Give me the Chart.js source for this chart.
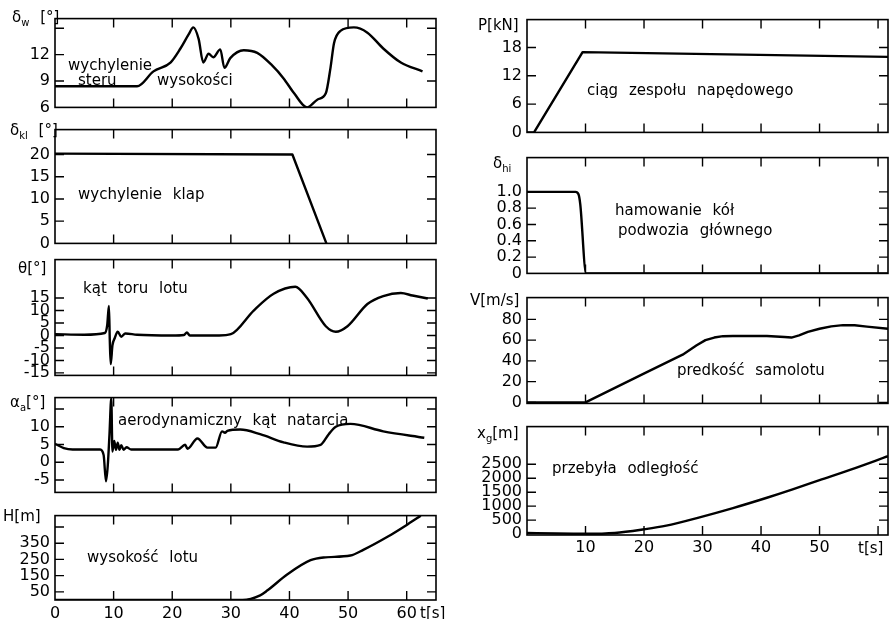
<!DOCTYPE html>
<html><head><meta charset="utf-8">
<script src="https://cdn.jsdelivr.net/npm/chart.js@4.4.1/dist/chart.umd.min.js"></script>
<style>
body{margin:0;background:#fff;width:891px;height:619px;position:relative;overflow:hidden;font-family:"DejaVu Sans",sans-serif;color:#000}
canvas{position:absolute}
.lbl{position:absolute;font-size:15px;line-height:16px;white-space:nowrap;word-spacing:6px}
.lbl sub{font-size:10px;vertical-align:-4px;line-height:0}
</style></head><body>
<script>
// ---------- data ----------
const timeTicks = [0, 10, 20, 30, 40, 50, 60];
const timeLabelsLeft = ['0', '10', '20', '30', '40', '50', '60'];
const timeLabelsRight = ['', '10', '20', '30', '40', '50', ''];

// elevator deflection δw [°]
const elevT   = [0, 14, 16.8, 19.7, 21.4, 22.8, 23.6, 24.5, 25.3, 26.2, 27.0, 28.2, 28.9, 29.9, 32.2, 34.5, 37, 39, 40.8, 43, 44.8, 46.2, 47.0, 47.6, 48.7, 51, 53.3, 56, 59, 62.7];
const elevDeg = [8.4, 8.4, 10.1, 11.1, 12.7, 14.3, 15.1, 13.8, 11.1, 12.1, 11.7, 12.6, 10.5, 11.6, 12.5, 12.2, 10.8, 9.3, 7.6, 6.0, 6.9, 7.6, 10.5, 13.3, 14.7, 15.1, 14.5, 12.7, 11.1, 10.1];
const elevTicks = [6, 9, 12, 15];
const elevLabels = ['6', '9', '12', ''];

// flap deflection δkl [°]
const flapT   = [0, 40.5, 46.3];
const flapDeg = [20.2, 20, 0];
const flapTicks = [0, 5, 10, 15, 20];
const flapLabels = ['0', '5', '10', '15', '20'];

// flight path angle θ [°]
const pathT   = [0, 5, 8.5, 8.9, 9.2, 9.35, 9.5, 9.8, 10.2, 10.7, 11.3, 12, 14, 20, 22, 22.5, 23, 28, 30, 33.9, 37.3, 41, 43, 46.2, 47.9, 49.9, 53.3, 56, 59, 61, 63.6];
const pathDeg = [0.5, 0.3, 1, 4, 11.8, -2, -11.5, -4, -1, 1.5, -0.5, 0.8, 0.3, 0, 0.2, 1.2, 0, 0, 0.5, 10, 16.7, 19.5, 15, 3.7, 1.5, 3.7, 12.6, 15.8, 17.0, 16, 14.8];
const pathTicks = [-15, -10, -5, 0, 5, 10, 15];
const pathLabels = ['-15', '-10', '-5', '0', '5', '10', '15'];

// aerodynamic angle of attack αa [°]
const aoaT   = [0, 1.5, 3, 7.7, 8.3, 8.7, 9.0, 9.3, 9.6, 9.8, 10.1, 10.4, 10.7, 11.0, 11.3, 11.7, 12.2, 13, 21, 22.2, 22.6, 24.3, 26, 27.4, 28.5, 29.0, 29.4, 31.6, 35, 39, 43, 45.3, 46.7, 47.9, 50.4, 56, 63];
const aoaDeg = [5.2, 4, 3.6, 3.6, 2, -5.4, -1, 8, 18, 3, 6, 3.5, 5.5, 3.5, 4.8, 3.5, 4.2, 3.6, 3.6, 4.9, 3.8, 6.7, 4.1, 4.1, 8.7, 8.3, 8.8, 9.2, 7.9, 5.6, 4.4, 4.9, 7.9, 10, 10.8, 8.7, 6.9];
const aoaTicks = [-5, 0, 5, 10, 15];
const aoaLabels = ['-5', '0', '5', '10', ''];

// altitude H [m]
const altT = [0, 32, 35, 36.2, 39.6, 43.6, 45.8, 50.4, 52.6, 56.8, 60.2, 62.4];
const altM = [0, 0, 29, 58, 157, 245, 262, 274, 309, 391, 467, 519];
const altTicks = [50, 150, 250, 350, 450];
const altLabels = ['50', '150', '250', '350', ''];

// thrust P [kN]
const thrustT  = [0, 1.2, 9.5, 61.7];
const thrustKN = [0, 0, 17, 16];
const thrustTicks = [0, 6, 12, 18];
const thrustLabels = ['0', '6', '12', '18'];

// main gear wheel braking δhi
const brakeT = [0, 8.3, 8.8, 9.1, 10.1, 61.7];
const brakeV = [1.0, 1.0, 0.97, 0.85, 0, 0];
const brakeTicks = [0, 0.2, 0.4, 0.6, 0.8, 1.0];
const brakeLabels = ['0', '0.2', '0.4', '0.6', '0.8', '1.0'];

// airspeed V [m/s]
const speedT  = [0, 10, 19.7, 26.6, 29, 30.5, 32, 33.5, 35.2, 41, 44, 45.2, 46.5, 48, 50, 52, 54, 56, 58.1, 61.7];
const speedMS = [0, 0, 27, 46, 55, 60, 62.5, 63.8, 64, 64, 63, 62.5, 64.5, 68, 71, 73.3, 74.5, 74.3, 73, 71];
const speedTicks = [0, 20, 40, 60, 80];
const speedLabels = ['0', '20', '40', '60', '80'];

// distance travelled xg [m]
const distT = [0, 5, 10, 15, 20, 23.8, 29.5, 35.2, 41, 45.4, 50, 55.2, 61.7];
const distM = [40, 20, 10, 40, 170, 300, 600, 930, 1300, 1600, 1930, 2300, 2790];
const distTicks = [0, 500, 1000, 1500, 2000, 2500];
const distLabels = ['0', '500', '1000', '1500', '2000', '2500'];

// ---------- drawing ----------
const FONT = '"DejaVu Sans", sans-serif';

const framePlugin = {
  id: 'frame',
  afterDraw(chart, args, o) {
    const ctx = chart.ctx, a = chart.chartArea, x = chart.scales.x, y = chart.scales.y;
    ctx.save();
    ctx.strokeStyle = '#000';
    ctx.lineWidth = 1.6;
    ctx.strokeRect(a.left, a.top, a.right - a.left, a.bottom - a.top);
    ctx.lineWidth = 1.4;
    const L = o.len;
    ctx.beginPath();
    o.xTicks.forEach(v => {
      const px = x.getPixelForValue(v);
      if (px <= a.left + 1 || px >= a.right - 1) return;
      ctx.moveTo(px, a.top); ctx.lineTo(px, a.top + L);
      ctx.moveTo(px, a.bottom); ctx.lineTo(px, a.bottom - L);
    });
    o.yTicks.forEach(v => {
      const py = y.getPixelForValue(v);
      if (py <= a.top + 1 || py >= a.bottom - 1) return;
      ctx.moveTo(a.left, py); ctx.lineTo(a.left + L, py);
      ctx.moveTo(a.right, py); ctx.lineTo(a.right - L, py);
    });
    ctx.stroke();
    ctx.restore();
  }
};

function panel(p) {
  const c = document.createElement('canvas');
  const padT = 10, padB = p.xLabels ? 0 : 10, xH = p.xLabels ? 26 : 0;
  const h = (p.bottom - p.top) + padT + padB + xH;
  c.width = p.cw; c.height = h;
  c.style.left = p.cl + 'px'; c.style.top = (p.top - padT) + 'px';
  c.style.width = p.cw + 'px'; c.style.height = h + 'px';
  document.body.appendChild(c);
  const pts = p.t.map((t, i) => ({ x: t, y: p.v[i] }));
  new Chart(c, {
    type: 'line',
    data: { datasets: [{ data: pts, borderColor: '#000', borderWidth: 2.4, pointRadius: 0, fill: false, cubicInterpolationMode: p.linear ? 'default' : 'monotone', tension: 0, borderJoinStyle: 'round' }] },
    options: {
      responsive: false, animation: false, events: [], devicePixelRatio: 1,
      layout: { padding: { top: padT, bottom: padB, left: 0, right: p.padR } },
      plugins: { legend: { display: false }, tooltip: { enabled: false }, frame: { xTicks: timeTicks, yTicks: p.yTicks, len: 9 } },
      scales: {
        x: {
          type: 'linear', min: 0, max: p.xMax, display: !!p.xLabels,
          grid: { display: false, drawTicks: false }, border: { display: false },
          afterBuildTicks: s => { s.ticks = timeTicks.map(v => ({ value: v })); },
          ticks: { autoSkip: false, maxRotation: 0, padding: p.xPad || 4, color: '#000', font: { family: FONT, size: 16 },
                   callback: (v, i) => p.xLabels ? p.xLabels[i] : '' },
          afterFit: s => { s.height = xH; }
        },
        y: {
          type: 'linear', min: p.yMin, max: p.yMax,
          grid: { display: false, drawTicks: false }, border: { display: false },
          afterBuildTicks: s => { s.ticks = p.yTicks.map(v => ({ value: v })); },
          ticks: { autoSkip: false, padding: 5, color: '#000', font: { family: FONT, size: 16 },
                   callback: (v, i) => p.yLabels[i] },
          afterFit: s => { s.width = p.yW; }
        }
      }
    },
    plugins: [framePlugin]
  });
}

const L = { cl: 0, cw: 440, yW: 55, padR: 4, xMax: 65 };
const R = { cl: 450, cw: 441, yW: 77, padR: 3, xMax: 61.7 };

panel({ ...L, top: 14,  bottom: 112, t: elevT, v: elevDeg, yMin: 6, yMax: 16.1, yTicks: elevTicks, yLabels: elevLabels });
panel({ ...L, top: 125, bottom: 248, t: flapT, v: flapDeg, yMin: 0, yMax: 25.6, yTicks: flapTicks, yLabels: flapLabels, linear: true });
panel({ ...L, top: 255, bottom: 380, t: pathT, v: pathDeg, yMin: -16, yMax: 30.4, yTicks: pathTicks, yLabels: pathLabels });
panel({ ...L, top: 393, bottom: 497, t: aoaT, v: aoaDeg, yMin: -8.5, yMax: 18.2, yTicks: aoaTicks, yLabels: aoaLabels });
panel({ ...L, top: 511, bottom: 600, t: altT, v: altM, yMin: 0, yMax: 520, yTicks: altTicks, yLabels: altLabels, xLabels: timeLabelsLeft, xPad: 4 });

panel({ ...R, top: 15,  bottom: 137, t: thrustT, v: thrustKN, yMin: 0, yMax: 23.9, yTicks: thrustTicks, yLabels: thrustLabels, linear: true });
panel({ ...R, top: 153, bottom: 278, t: brakeT, v: brakeV, yMin: 0, yMax: 1.42, yTicks: brakeTicks, yLabels: brakeLabels });
panel({ ...R, top: 293, bottom: 408, t: speedT, v: speedMS, yMin: -1, yMax: 101, yTicks: speedTicks, yLabels: speedLabels, linear: true });
panel({ ...R, top: 422, bottom: 535, t: distT, v: distM, yMin: -34, yMax: 3850, yTicks: distTicks, yLabels: distLabels, xLabels: timeLabelsRight, xPad: 3 });

// ---------- text ----------
const texts = [
  ['δ<sub>w</sub> [°]', 12, 17], ['wychylenie', 68, 65], ['steru', 78, 80], ['wysokości', 157, 80],
  ['δ<sub>kl</sub> [°]', 10, 130], ['wychylenie klap', 78, 194],
  ['θ[°]', 18, 268], ['kąt toru lotu', 83, 288],
  ['α<sub>a</sub>[°]', 10, 402], ['aerodynamiczny kąt natarcia', 118, 420],
  ['H[m]', 3, 516], ['wysokość lotu', 87, 557], ['t[s]', 420, 613],
  ['P[kN]', 478, 25], ['ciąg zespołu napędowego', 587, 90],
  ['δ<sub>hi</sub>', 493, 163], ['hamowanie kół', 615, 210], ['podwozia głównego', 618, 230],
  ['V[m/s]', 470, 300], ['predkość samolotu', 677, 370],
  ['x<sub>g</sub>[m]', 477, 433], ['przebyła odległość', 552, 468], ['t[s]', 858, 548]
];
texts.forEach(([s, x, y]) => {
  const d = document.createElement('div');
  d.className = 'lbl';
  d.innerHTML = s;
  d.style.left = x + 'px';
  d.style.top = (y - 8) + 'px';
  document.body.appendChild(d);
});
</script>
</body></html>
